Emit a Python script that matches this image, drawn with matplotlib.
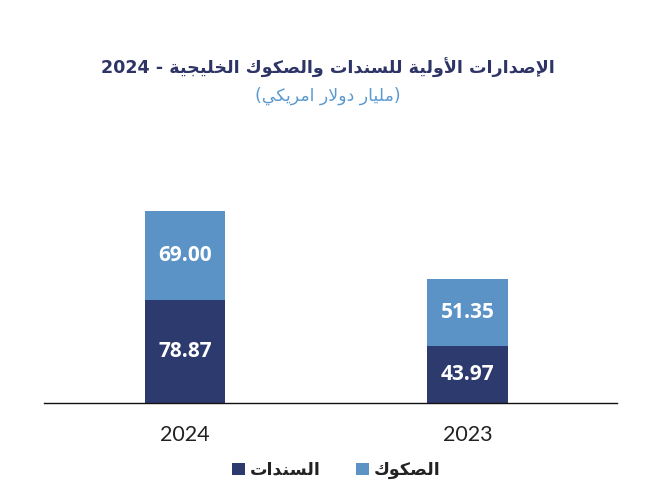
import re
import matplotlib
matplotlib.use("Agg")
import matplotlib.pyplot as plt
from matplotlib.patches import Patch

# ---------------- data ----------------
years = ["2024", "2023"]
bonds = [78.87, 43.97]      # السندات
sukuk = [69.00, 51.35]      # الصكوك
series_names = ["السندات", "الصكوك"]
title_text = "الإصدارات الأولية للسندات والصكوك الخليجية - 2024"
subtitle_text = "(مليار دولار امريكي)"

# ------------- minimal Arabic shaping -------------
FORMS = {  # iso, fin, ini, med
    'ا': ('\uFE8D', '\uFE8E', None, None),
    'أ': ('\uFE83', '\uFE84', None, None),
    'إ': ('\uFE87', '\uFE88', None, None),
    'آ': ('\uFE81', '\uFE82', None, None),
    'ب': ('\uFE8F', '\uFE90', '\uFE91', '\uFE92'),
    'ة': ('\uFE93', '\uFE94', None, None),
    'ت': ('\uFE95', '\uFE96', '\uFE97', '\uFE98'),
    'ج': ('\uFE9D', '\uFE9E', '\uFE9F', '\uFEA0'),
    'خ': ('\uFEA5', '\uFEA6', '\uFEA7', '\uFEA8'),
    'د': ('\uFEA9', '\uFEAA', None, None),
    'ر': ('\uFEAD', '\uFEAE', None, None),
    'س': ('\uFEB1', '\uFEB2', '\uFEB3', '\uFEB4'),
    'ص': ('\uFEB9', '\uFEBA', '\uFEBB', '\uFEBC'),
    'ك': ('\uFED9', '\uFEDA', '\uFEDB', '\uFEDC'),
    'ل': ('\uFEDD', '\uFEDE', '\uFEDF', '\uFEE0'),
    'م': ('\uFEE1', '\uFEE2', '\uFEE3', '\uFEE4'),
    'ن': ('\uFEE5', '\uFEE6', '\uFEE7', '\uFEE8'),
    'ه': ('\uFEE9', '\uFEEA', '\uFEEB', '\uFEEC'),
    'و': ('\uFEED', '\uFEEE', None, None),
    'ي': ('\uFEF1', '\uFEF2', '\uFEF3', '\uFEF4'),
    'ى': ('\uFEEF', '\uFEF0', None, None),
}
LAMALEF = {'ا': ('\uFEFB', '\uFEFC'), 'أ': ('\uFEF7', '\uFEF8'),
           'إ': ('\uFEF9', '\uFEFA'), 'آ': ('\uFEF5', '\uFEF6')}


def joins_next(ch):
    return ch in FORMS and FORMS[ch][2] is not None


def shape(text):
    units = []
    i = 0
    while i < len(text):
        c = text[i]
        if c == 'ل' and i + 1 < len(text) and text[i + 1] in LAMALEF:
            units.append(('LA', text[i + 1]))
            i += 2
        else:
            units.append(('C', c))
            i += 1

    def is_ar(u):
        return u[0] == 'LA' or u[1] in FORMS

    def can_join_next(u):
        return u[0] == 'C' and joins_next(u[1])

    out = []
    for k, u in enumerate(units):
        prev = units[k - 1] if k > 0 else None
        nxt = units[k + 1] if k + 1 < len(units) else None
        join_prev = prev is not None and can_join_next(prev) and is_ar(u)
        if u[0] == 'LA':
            out.append(LAMALEF[u[1]][1 if join_prev else 0])
            continue
        c = u[1]
        if c not in FORMS:
            out.append(c)
            continue
        join_next = joins_next(c) and nxt is not None and is_ar(nxt)
        iso, fin, ini, med = FORMS[c]
        if join_prev and join_next:
            out.append(med)
        elif join_prev:
            out.append(fin)
        elif join_next:
            out.append(ini)
        else:
            out.append(iso)
    return ''.join(out)


def ar(text):
    s = shape(text)[::-1]
    s = re.sub(r'[0-9.]+', lambda m: m.group(0)[::-1], s)
    s = s.translate(str.maketrans('()', ')('))
    return s


# ---------------- style ----------------
dark = "#2D3A6E"
light = "#5B93C6"
title_col = "#2E3566"
sub_col = "#5A9AD0"
arfont = ["DejaVu Sans"]

fig = plt.figure(figsize=(6.66, 5.0), dpi=100)
ax = fig.add_axes([44 / 666, 97 / 500, 573 / 666, 195 / 500])

x = list(range(len(years)))
w = 0.285
ax.bar(x, bonds, width=w, color=dark)
ax.bar(x, sukuk, width=w, bottom=bonds, color=light)

for xi, v in zip(x, bonds):
    ax.text(xi, v / 2, f"{v:.2f}", ha="center", va="center",
            color="white", fontsize=15, fontweight="bold", family="Open Sans")
for xi, v, base in zip(x, sukuk, bonds):
    ax.text(xi, base + v / 2, f"{v:.2f}", ha="center", va="center",
            color="white", fontsize=15, fontweight="bold", family="Open Sans")

ax.set_xlim(-0.5, 1.53)
ax.set_ylim(0, 150)
ax.set_xticks(x)
ax.set_xticklabels(years, fontsize=15.5, family="Lato", color="#222222")
ax.tick_params(axis="x", length=0, pad=16)
ax.set_yticks([])
for s in ["top", "left", "right"]:
    ax.spines[s].set_visible(False)
ax.spines["bottom"].set_color("#111111")
ax.spines["bottom"].set_linewidth(1.0)

fig.text(0.492, 1 - 68 / 500, ar(title_text), ha="center", va="center",
         fontsize=12.6, fontweight="bold", color=title_col, family=arfont)
fig.text(0.492, 1 - 96 / 500, ar(subtitle_text), ha="center", va="center",
         fontsize=12.5, color=sub_col, family=arfont)

handles = [Patch(facecolor=dark), Patch(facecolor=light)]
leg = fig.legend(handles, [ar(n) for n in series_names], loc="center",
                 bbox_to_anchor=(0.505, 1 - 470 / 500), ncol=2, frameon=False,
                 handlelength=0.75, handleheight=0.75, handletextpad=0.3,
                 columnspacing=2.0, prop={"family": arfont, "size": 12.5, "weight": "bold"})
for t in leg.get_texts():
    t.set_color("#222222")

fig.savefig("out.png", dpi=100)
